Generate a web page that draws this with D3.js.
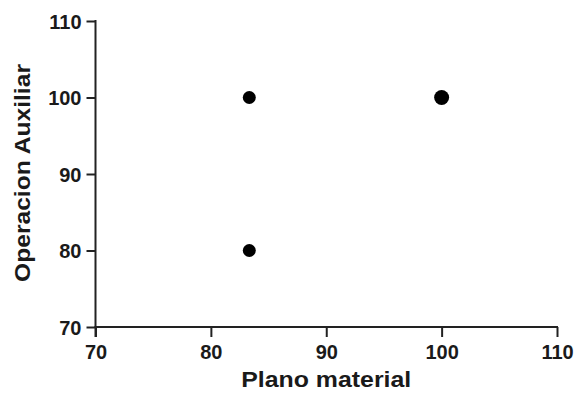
<!DOCTYPE html>
<html>
<head>
<meta charset="utf-8">
<script src="https://cdn.jsdelivr.net/npm/d3@7"></script>
<style>
  html, body { margin: 0; padding: 0; background: #fff; }
  svg { display: block; }
  text { font-family: "Liberation Sans", Arial, sans-serif; font-weight: bold; fill: #1a1a1a; }
</style>
</head>
<body>
<svg id="chart" width="577" height="398"></svg>
<script>
// Observations: Plano material vs Operacion Auxiliar
const planoMaterial = [83.33, 100, 83.33];
const operacionAuxiliar = [100, 100, 80];
const observationCount = [1, 2, 1];   // repeated observations at the same point

const xTicks = [70, 80, 90, 100, 110];
const yTicks = [70, 80, 90, 100, 110];
const xLabel = "Plano material";
const yLabel = "Operacion Auxiliar";

const svg = d3.select("#chart");
const plot = { left: 95.5, right: 557, top: 21, bottom: 327 };

const x = d3.scaleLinear().domain([70, 110]).range([plot.left, plot.right]);
const y = d3.scaleLinear().domain([70, 110]).range([plot.bottom, plot.top]);
const r = d3.scaleLinear().domain([1, 2]).range([6.5, 7.5]);

// X axis
const xAxis = svg.append("g")
  .attr("transform", `translate(0,${plot.bottom})`)
  .call(d3.axisBottom(x).tickValues(xTicks).tickSize(10).tickPadding(8).tickSizeOuter(0));
// Y axis
const yAxis = svg.append("g")
  .attr("transform", `translate(${plot.left},0)`)
  .call(d3.axisLeft(y).tickValues(yTicks).tickSize(9).tickPadding(5).tickSizeOuter(0));

[xAxis, yAxis].forEach(g => {
  g.select(".domain").attr("stroke", "#222").attr("stroke-width", 2);
  g.selectAll(".tick line").attr("stroke", "#222").attr("stroke-width", 2);
  g.selectAll(".tick text")
    .style("font-size", "20px")
    .style("font-family", "'Liberation Sans', Arial, sans-serif")
    .style("font-weight", "bold")
    .attr("fill", "#1a1a1a");
});
// axis lines run slightly past the corner
xAxis.select(".domain").attr("d", `M${plot.left - 1},0H${plot.right + 1}`);
yAxis.select(".domain").attr("d", `M0,${plot.top - 1}V${plot.bottom + 10}`);
yAxis.selectAll(".tick text").attr("dy", "0.35em");

// Axis titles
svg.append("text")
  .attr("x", (plot.left + plot.right) / 2)
  .attr("y", 387)
  .attr("text-anchor", "middle")
  .style("font-size", "22px")
  .attr("textLength", 170)
  .attr("lengthAdjust", "spacingAndGlyphs")
  .text(xLabel);

svg.append("text")
  .attr("transform", `translate(30,${(plot.top + plot.bottom) / 2 - 1}) rotate(-90)`)
  .attr("text-anchor", "middle")
  .style("font-size", "22px")
  .attr("textLength", 218)
  .attr("lengthAdjust", "spacingAndGlyphs")
  .text(yLabel);

// Points
const points = planoMaterial.map((v, i) => ({ x: v, y: operacionAuxiliar[i], n: observationCount[i] }));
svg.append("g")
  .selectAll("circle")
  .data(points)
  .join("circle")
  .attr("cx", d => x(d.x))
  .attr("cy", d => y(d.y))
  .attr("r", d => r(d.n))
  .attr("fill", "#000");
</script>
</body>
</html>
